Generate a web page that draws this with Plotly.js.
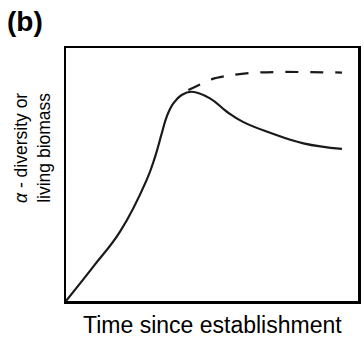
<!DOCTYPE html>
<html>
<head>
<meta charset="utf-8">
<script src="https://cdn.plot.ly/plotly-3.0.1.min.js"></script>
<style>
  html, body { margin: 0; padding: 0; background: #fff; }
  #chart { width: 364px; height: 337px; }
</style>
</head>
<body>
<div id="chart"></div>
<script>
// Conceptual trajectory over time (arbitrary units, 0-100 on both axes)
const timeSolid = [0, 9.35, 18.5, 27.6, 30.5, 32.8, 34.5, 36.75, 39.6, 43.05, 49.3, 55.1, 60.6, 69.9, 81.3, 94.5];
const valueSolid = [0, 13.6, 27.4, 47.8, 57.0, 66.3, 72.9, 78.1, 81.4, 82.7, 80.1, 74.8, 70.8, 66.5, 62.3, 60.1];

// Alternative path that levels off instead of declining
const timeDashed = [41.9, 45.9, 50.0, 56.2, 63.0, 71.6, 94.5];
const valueDashed = [83.4, 85.6, 87.7, 89.2, 90.1, 90.5, 90.3];

const panelLabel = '(b)';
const xTitle = 'Time since establishment';
const yTitle = '<i>α</i> - diversity or<br>living biomass';

const FONT = 'Liberation Sans, Arial, Helvetica, sans-serif';
const INK = '#1a1a1a';

const traces = [
  {
    x: timeSolid, y: valueSolid,
    mode: 'lines', type: 'scatter',
    line: { color: INK, width: 2.2, shape: 'spline', smoothing: 1.2 },
    hoverinfo: 'skip'
  },
  {
    x: timeDashed, y: valueDashed,
    mode: 'lines', type: 'scatter',
    line: { color: INK, width: 2.2, shape: 'spline', smoothing: 0.9, dash: '13px,12px' },
    hoverinfo: 'skip'
  }
];

const axisCommon = {
  range: [0, 100],
  showgrid: false,
  zeroline: false,
  showticklabels: false,
  ticks: '',
  showline: true,
  mirror: true,
  linecolor: '#000',
  linewidth: 2.5,
  fixedrange: true
};

const layout = {
  width: 364,
  height: 337,
  margin: { l: 66, r: 6, t: 48, b: 36 },
  paper_bgcolor: '#fff',
  plot_bgcolor: '#fff',
  showlegend: false,
  font: { family: FONT, color: '#000' },
  xaxis: Object.assign({}, axisCommon),
  yaxis: Object.assign({}, axisCommon),
  annotations: [
    {
      text: '<b>' + panelLabel + '</b>',
      xref: 'paper', yref: 'paper',
      x: -0.209, y: 1.106, xanchor: 'left', yanchor: 'middle',
      showarrow: false,
      font: { family: FONT, size: 28, color: '#000' }
    },
    {
      text: xTitle,
      xref: 'paper', yref: 'paper',
      x: 0.5, y: -0.095, xanchor: 'center', yanchor: 'middle',
      showarrow: false,
      font: { family: FONT, size: 23, color: '#000' }
    },
    {
      text: yTitle,
      xref: 'paper', yref: 'paper',
      x: -0.113, y: 0.605, xanchor: 'center', yanchor: 'middle',
      textangle: -90,
      showarrow: false,
      font: { family: FONT, size: 17.5, color: '#000' }
    }
  ]
};

Plotly.newPlot('chart', traces, layout, { displayModeBar: false, staticPlot: true });
</script>
</body>
</html>
